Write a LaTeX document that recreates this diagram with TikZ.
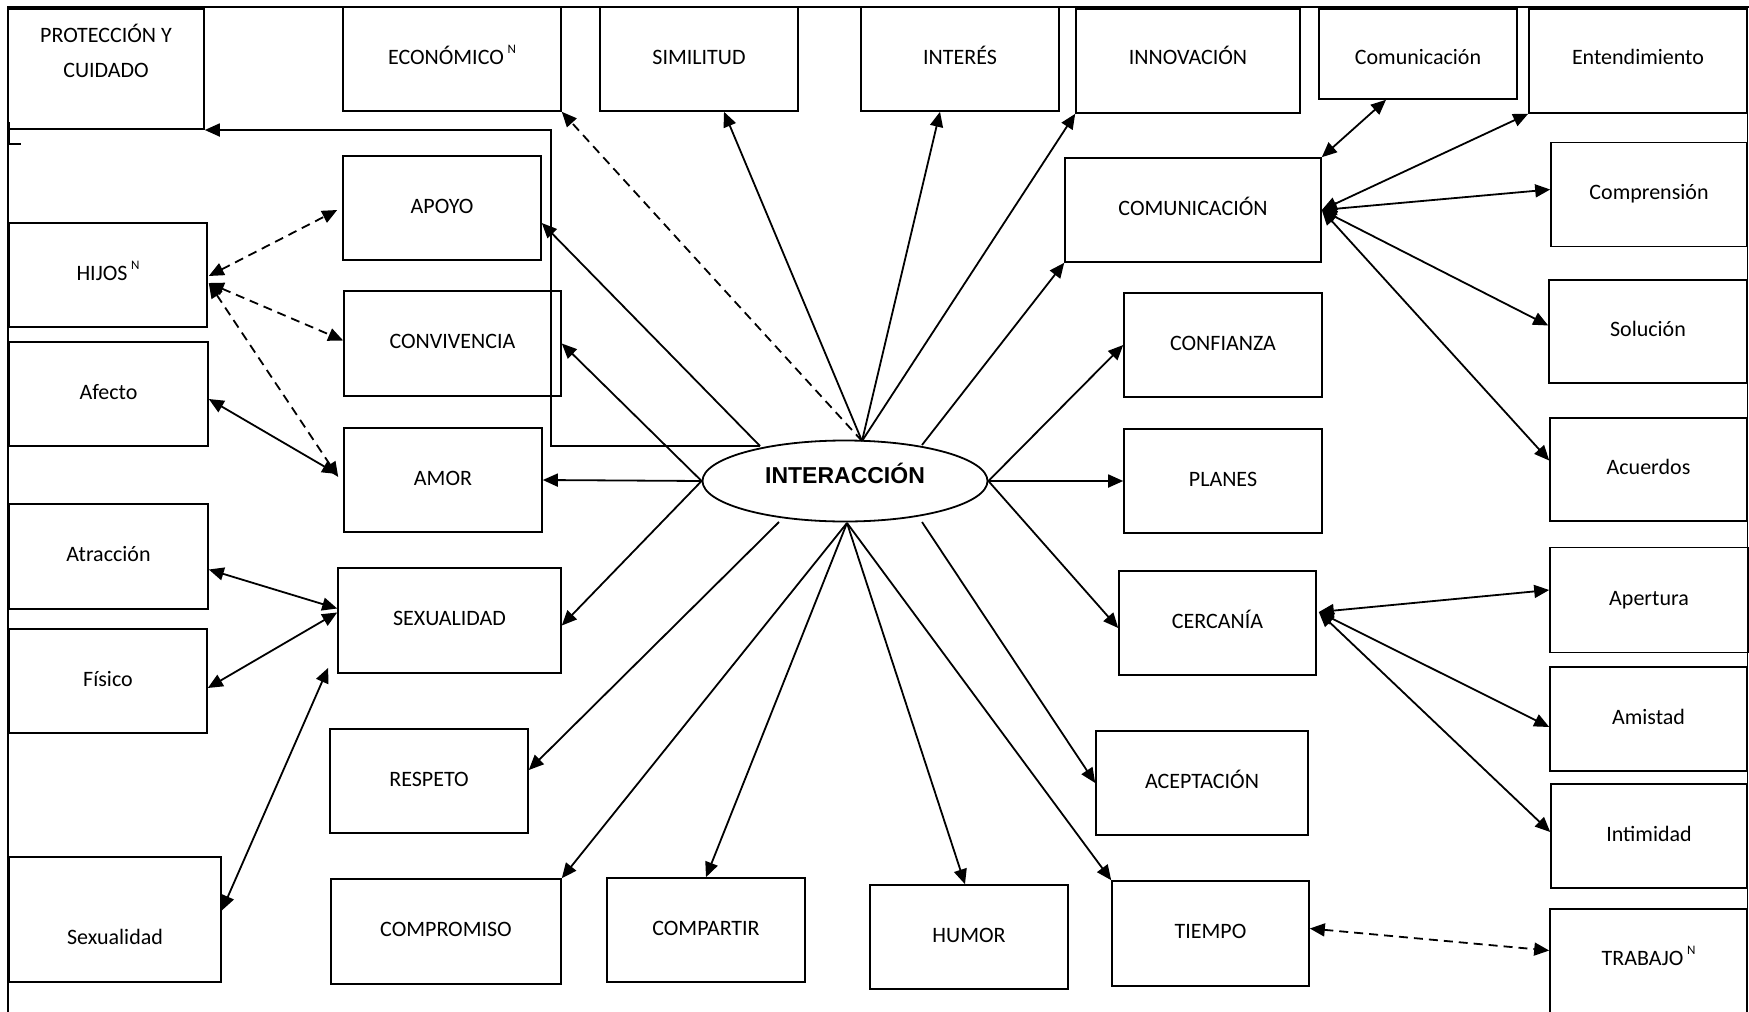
\documentclass[tikz,border=0pt]{standalone}
\usepackage{fontspec}
\setmainfont{Carlito}
\newfontfamily\headfont{Liberation Sans}
\usetikzlibrary{arrows.meta,calc,shapes.geometric}

% small raised "N" marker used after some labels
\newcommand\supN{\,{\fontsize{13}{14}\selectfont\raisebox{11pt}{N}}}
% box node: name, centre x, centre y, width, height, text
\newcommand\boxat[6]{\node[box,minimum width=#4pt,minimum height=#5pt] (#1) at (#2,#3) {#6};}

\begin{document}
\begin{tikzpicture}[x=1pt,y=-1pt,
  box/.style={draw, rectangle, line width=1.6pt, inner sep=0pt,
    font=\fontsize{22}{26}\selectfont, text height=14pt, text depth=4pt},
  lbl/.style={inner sep=0pt, font=\fontsize{22}{26}\selectfont,
    text height=14pt, text depth=0pt},
  arr/.style={line width=1.8pt, -{Triangle[length=15pt,width=13pt]}},
  darr/.style={line width=1.8pt, {Triangle[length=15pt,width=13pt]}-{Triangle[length=15pt,width=13pt]}},
  dshd/.style={dash pattern=on 9pt off 6pt},
  frameline/.style={line width=1.2pt}
]
\path[use as bounding box, fill=white] (0,0) rectangle (1749,1012);

% outer frame
\draw[frameline] (8,1013) -- (8,7);
\draw[line width=2.4pt] (7,7) -- (1749,7);
\draw[frameline] (1747.5,7) -- (1747.5,1013);
\draw[line width=2.5pt] (8.5,122) -- (8.5,144) -- (21,144);

% central ellipse
\node[draw, ellipse, line width=1.8pt, minimum width=285pt, minimum height=81pt, inner sep=0pt] (inter) at (845,481) {};
\node[font=\headfont\bfseries\fontsize{23}{26}\selectfont, anchor=base, inner sep=0pt] (interT) at (845,483) {INTERACCIÓN};

% top row
\boxat{prot}{106}{69}{196}{120}{}
\node[lbl] (protA) at (106,35) {PROTECCIÓN Y};
\node[lbl] (protB) at (106,70) {CUIDADO};
\boxat{econ}{452}{59}{218}{104}{ECONÓMICO\supN}
\boxat{simil}{699}{59}{198}{104}{SIMILITUD}
\boxat{interes}{960}{59}{198}{104}{INTERÉS}
\boxat{innov}{1188}{61}{224}{104}{}
\node[lbl] (innovT) at (1188,57) {INNOVACIÓN};
\boxat{comu2}{1418}{54}{198}{90}{}
\node[lbl] (comu2T) at (1418,57) {Comunicación};
\boxat{entend}{1638}{61}{218}{104}{}
\node[lbl] (entendT) at (1638,57) {Entendimiento};

% left side
\boxat{apoyo}{442}{208}{198}{104}{APOYO}
\boxat{hijos}{108}{275}{198}{104}{HIJOS\supN}
\boxat{conviv}{452.5}{343.5}{217}{105}{CONVIVENCIA}
\boxat{afecto}{108.5}{394}{199}{104}{Afecto}
\boxat{amor}{443}{480}{198}{104}{AMOR}
\boxat{atrac}{108.5}{556.5}{199}{105}{Atracción}
\boxat{sexu}{449.5}{620.5}{223}{105}{SEXUALIDAD}
\boxat{fisico}{108}{681}{198}{104}{Físico}
\boxat{respeto}{429}{781}{198}{104}{RESPETO}
\boxat{sexl}{115}{919.5}{212}{125}{}
\node[lbl] (sexlT) at (115,937) {Sexualidad};

% bottom row
\boxat{compro}{446}{931.5}{230}{105}{COMPROMISO}
\boxat{compart}{706}{930}{198}{104}{COMPARTIR}
\boxat{humor}{969}{937}{198}{104}{HUMOR}
\boxat{tiempo}{1210.5}{933.5}{197}{105}{TIEMPO}

% right side
\boxat{comu}{1193}{210}{256}{104}{COMUNICACIÓN}
\boxat{confi}{1223}{345}{198}{104}{CONFIANZA}
\boxat{planes}{1223}{481}{198}{104}{PLANES}
\boxat{cerca}{1217.5}{623}{197}{104}{CERCANÍA}
\boxat{acept}{1202}{783}{212}{104}{ACEPTACIÓN}
\boxat{compren}{1649}{194.5}{196}{104}{Comprensión}
\boxat{soluc}{1648}{331.5}{198}{103}{Solución}
\boxat{acuerd}{1648.5}{469.5}{197}{103}{Acuerdos}
\boxat{apert}{1649}{600}{198}{105}{Apertura}
\boxat{amist}{1648.5}{719}{197}{104}{Amistad}
\boxat{intim}{1649}{836}{196}{104}{Intimidad}
\boxat{trabajo}{1648.5}{964.5}{197}{111}{}
\node[lbl] (trabajoT) at (1648.5,958) {TRABAJO\supN};

% starting points on the ellipse
\coordinate (hTL) at (760,446);
\coordinate (hT) at (862,441);
\coordinate (hTR) at (922,445);
\coordinate (hBL) at (779,522);
\coordinate (hB) at (847,523);
\coordinate (hBR) at (922,522);
\coordinate (bendP) at (551,130);
\coordinate (cH) at ($(cerca.east)+(2,-11)$);

% connectors from the ellipse
\draw[arr] (hTL) -| (bendP) -- (bendP -| prot.east);
\draw[arr] (hTL) -- ($(apoyo.east)+(0,15)$);
\draw[arr,dshd] (hT) -- (econ.south east);
\draw[arr] (hT) -- ($(simil.south)+(25,0)$);
\draw[arr] (hT) -- ($(interes.south)+(-20,0)$);
\draw[arr] (hT) -- (innov.south west);
\draw[arr] (inter.west) -- (conviv.east);
\draw[arr] (inter.west) -- (amor.east);
\draw[arr] (inter.west) -- ($(sexu.east)+(0,5)$);
\draw[arr] (hBL) -- ($(respeto.east)+(0,-11)$);
\draw[arr] (hB) -- (compro.north east);
\draw[arr] (hB) -- (compart.north);
\draw[arr] (hB) -- ($(humor.north)+(-4,0)$);
\draw[arr] (hB) -- (tiempo.north west);
\draw[arr] (hBR) -- (acept.west);
\draw[arr] (inter.east) -- ($(cerca.west)+(0,5)$);
\draw[arr] (inter.east) -- (planes.west);
\draw[arr] (inter.east) -- (confi.west);
\draw[arr] (hTR) -- (comu.south west);

% COMUNICACIÓN group
\draw[darr] (comu.north east) -- ($(comu2.south)+(-32,0)$);
\draw[darr] (comu.east) -- (entend.south west);
\draw[darr] (comu.east) -- ($(compren.west)+(0,-5)$);
\draw[darr] (comu.east) -- ($(soluc.west)+(0,-6)$);
\draw[darr] (comu.east) -- ($(acuerd.west)+(0,-9)$);

% CERCANÍA group
\draw[darr] (cH) -- ($(apert.west)+(0,-10)$);
\draw[darr] (cH) -- ($(amist.west)+(0,8)$);
\draw[darr] (cH) -- ($(intim.west)+(0,-4)$);
\draw[darr,dshd] ($(tiempo.east)+(0,-5)$) -- ($(trabajo.west)+(0,-14)$);

% left groups
\draw[darr,dshd] ($(hijos.east)+(1,1)$) -- ($(apoyo.west)+(-5,2)$);
\draw[darr,dshd] ($(hijos.east)+(1,8)$) -- ($(conviv.west)+(0,-3)$);
\draw[darr,dshd] ($(hijos.east)+(1,8)$) -- ($(amor.west)+(-5,-3)$);
\draw[darr] ($(afecto.east)+(0,5)$) -- ($(amor.west)+(-6,-6)$);
\draw[darr] ($(atrac.east)+(0,13)$) -- ($(sexu.west)+(0,-12)$);
\draw[darr] ($(fisico.east)+(0,7)$) -- ($(sexu.west)+(0,-8)$);
\draw[darr] ($(sexl.east)+(0,-9)$) -- ($(sexu.south west)+(-9,-6)$);
\end{tikzpicture}
\end{document}
